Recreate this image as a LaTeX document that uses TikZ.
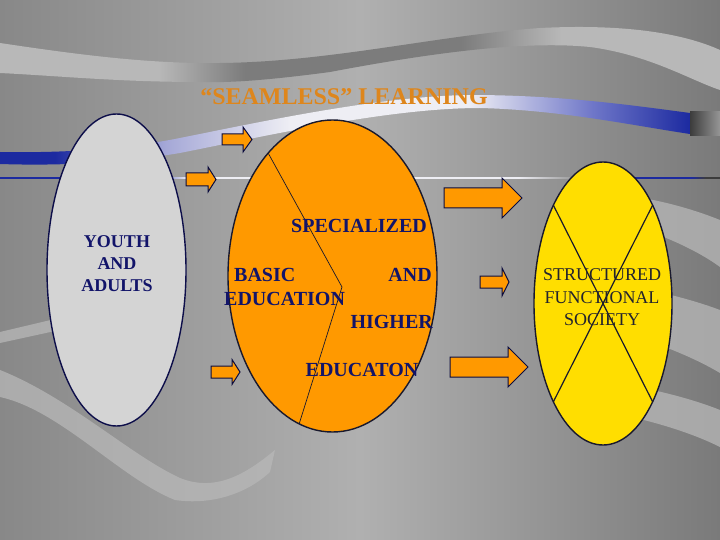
\documentclass[tikz,border=0pt]{standalone}
\usepackage{fontspec}
\setmainfont{Liberation Serif}
\usetikzlibrary{shapes.geometric,positioning}
\definecolor{bgside}{RGB}{136,136,136}
\definecolor{bgmid}{RGB}{176,176,176}
\definecolor{bgright}{RGB}{122,122,122}
\definecolor{swash}{RGB}{184,184,184}
\definecolor{swashdark}{RGB}{124,124,124}
\definecolor{ribbonblue}{RGB}{28,42,160}
\definecolor{ribbonmid}{RGB}{110,118,200}
\definecolor{ribbonlav}{RGB}{165,168,215}
\definecolor{ribbonpale}{RGB}{238,238,244}
\definecolor{hairgrey}{RGB}{150,150,150}
\definecolor{hairdark}{RGB}{60,60,60}
\definecolor{navy}{RGB}{18,20,105}
\definecolor{outline}{RGB}{25,25,45}
\definecolor{pebble}{RGB}{212,212,212}
\definecolor{tangerine}{RGB}{255,153,0}
\definecolor{lemon}{RGB}{255,222,0}
\definecolor{titleorange}{RGB}{222,134,28}
\definecolor{soot}{RGB}{35,35,45}
\pgfdeclarehorizontalshading{topswash}{100bp}{color(0bp)=(swash); color(36bp)=(swash);
  color(42bp)=(swashdark); color(57bp)=(swashdark); color(64bp)=(swash); color(100bp)=(swash)}
\pgfdeclarehorizontalshading{blueswash}{100bp}{color(0bp)=(ribbonblue); color(29bp)=(ribbonblue);
  color(37bp)=(ribbonlav); color(46bp)=(ribbonpale); color(59bp)=(ribbonpale);
  color(68bp)=(ribbonmid); color(75bp)=(ribbonblue); color(100bp)=(ribbonblue)}
\pgfdeclarehorizontalshading{hairline}{100bp}{color(0bp)=(ribbonblue); color(35bp)=(ribbonblue);
  color(38bp)=(ribbonpale); color(57bp)=(ribbonpale); color(61bp)=(ribbonpale); color(65bp)=(hairgrey);
  color(69bp)=(ribbonblue); color(73bp)=(ribbonblue); color(74bp)=(hairdark); color(100bp)=(hairdark)}
\tikzset{
  oval/.style={ellipse,draw=outline,fill=#1,line width=1.4pt,inner sep=0pt},
  oval/.default=pebble,
  headline/.style={font=\fontsize{24}{28}\selectfont\bfseries,text=titleorange},
  youthtext/.style={align=center,font=\fontsize{18}{22}\selectfont\bfseries,text=navy},
  eduword/.style={inner sep=0pt,font=\fontsize{20}{24}\selectfont\bfseries,text=navy},
  societytext/.style={align=center,font=\fontsize{18}{22.5}\selectfont,text=soot},
  arrowbox/.style={fill=tangerine,draw=navy!60!black,line width=1pt},
  band/.style={fill=swash,fill opacity=0.75},
  % length, half shaft, half head, head length
  pics/blockarrow/.style n args={4}{code={
    \filldraw[arrowbox] (0,-#2) -- (#1-#4,-#2) -- (#1-#4,-#3) -- (#1,0)
      -- (#1-#4,#3) -- (#1-#4,#2) -- (0,#2) -- cycle;
  }},
}
\begin{document}
\begin{tikzpicture}[x=1pt,y=-1pt]
  \useasboundingbox (0,0) rectangle (720,540);
  % background
  \shade[left color=bgside,right color=bgright,middle color=bgmid] (0,0) rectangle (720,540);
  \shade[shading=topswash] (0,43) .. controls (80,55) and (150,64) .. (220,63)
    .. controls (330,62) and (440,35) .. (540,28) .. controls (620,24) and (680,32) .. (720,50)
    -- (720,90) .. controls (690,80) and (650,55) .. (590,47)
    .. controls (520,40) and (420,55) .. (330,72) .. controls (270,80) and (230,83) .. (200,82)
    .. controls (120,82) and (60,76) .. (0,73) -- cycle;
  \shade[shading=blueswash] (0,152) .. controls (60,153) and (120,150) .. (180,138)
    .. controls (260,122) and (380,96) .. (470,95) .. controls (560,95) and (630,105) .. (690,113)
    -- (690,134) .. controls (630,125) and (560,110) .. (480,108)
    .. controls (390,108) and (270,135) .. (180,153) .. controls (120,163) and (60,166) .. (0,164) -- cycle;
  \shade[left color=hairdark,right color=hairgrey] (690,112) rectangle (720,136);
  \shade[shading=hairline] (0,177.5) rectangle (720,179);
  \fill[band] (0,332) -- (55,319) -- (55,331) -- (0,343) -- cycle;
  \fill[band] (0,370) .. controls (70,398) and (130,455) .. (180,478)
    .. controls (215,492) and (245,475) .. (275,450) -- (270,472)
    .. controls (245,495) and (210,505) .. (175,500) .. controls (120,478) and (60,410) .. (0,397) -- cycle;
  \fill[band] (590,192) .. controls (630,194) and (675,202) .. (720,220)
    -- (720,267) .. controls (690,245) and (640,225) .. (590,215) -- cycle;
  \fill[band] (570,275) .. controls (630,285) and (680,295) .. (720,310)
    -- (720,373) .. controls (690,355) and (640,335) .. (570,318) -- cycle;
  \fill[band] (600,380) .. controls (650,388) and (690,398) .. (720,410)
    -- (720,447) .. controls (690,432) and (650,420) .. (600,410) -- cycle;

  \node[headline] (title) at (344,97) {“SEAMLESS” LEARNING};

  \node[oval,draw=navy!70!black,minimum width=139pt,minimum height=312pt] (youth) at (116.5,270) {};
  \node[oval=tangerine,minimum width=209pt,minimum height=312pt] (school) at (332.5,276) {};
  \node[oval=lemon,minimum width=138pt,minimum height=283pt] (society) at (603,303.5) {};

  \path (school.center) ++(232:104.5 and 156) coordinate (cut top)
        (school.center) ++(108.6:104.5 and 156) coordinate (cut bottom);
  \coordinate (cut bend) at (342,287);
  \draw[outline,line width=0.7pt] (cut top) -- (cut bend) -- (cut bottom);

  \path (society.center) ++(224:69 and 141.5) coordinate (x nw)
        (society.center) ++(44:69 and 141.5) coordinate (x se)
        (society.center) ++(316:69 and 141.5) coordinate (x ne)
        (society.center) ++(136:69 and 141.5) coordinate (x sw);
  \draw[outline,line width=1.2pt] (x nw) -- (x se) (x ne) -- (x sw);

  \node[youthtext] (youthwords) at (117,264) {YOUTH\\AND\\ADULTS};

  \node[eduword] (specialized) at (359,226) {SPECIALIZED};
  \node[eduword,anchor=west] (basicword) at (234,275) {BASIC};
  \node[eduword,anchor=east] (andword) at (432,275) {AND};
  \node[eduword,anchor=west] (educword) at (224,299) {EDUCATION};
  \node[eduword,anchor=east] (higher) at (433,322) {HIGHER};
  \node[eduword] (educaton) at (362,370) {EDUCATON};

  \node[societytext] (societywords) at (602,297.5) {STRUCTURED\\FUNCTIONAL\\SOCIETY};

  \pic at (222,139.5) {blockarrow={30}{5.5}{12.5}{9}};
  \pic at (186,179.5) {blockarrow={30}{6.5}{12.5}{8}};
  \pic at (211,372) {blockarrow={29}{6}{12.5}{8}};
  \pic at (444,198) {blockarrow={78}{10}{20}{20}};
  \pic at (480,282) {blockarrow={29}{6}{14}{7}};
  \pic at (450,367) {blockarrow={78}{10}{20}{20}};
\end{tikzpicture}
\end{document}
